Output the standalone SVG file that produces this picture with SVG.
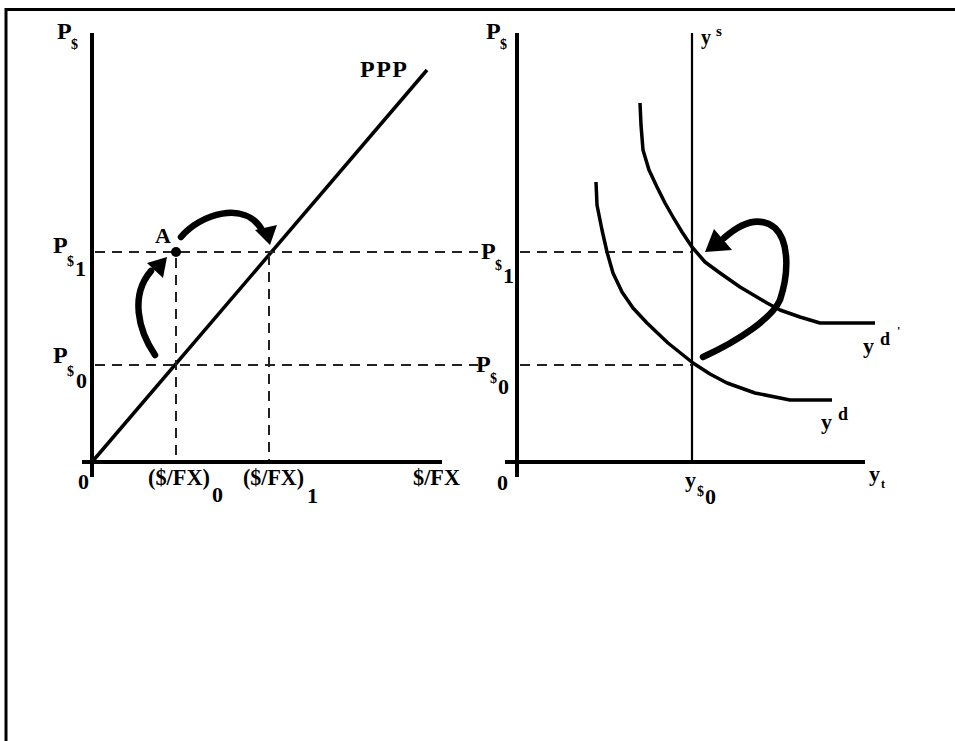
<svg xmlns="http://www.w3.org/2000/svg" width="955" height="741" viewBox="0 0 955 741">
<style>
text{font-family:"Liberation Serif","Times New Roman",serif;font-weight:bold;fill:#000}
.m{font-size:24px}
.s{font-size:14px}
.d{font-size:22px}
.ax{stroke:#000;stroke-width:4;fill:none}
.dash{stroke:#222;stroke-width:2;stroke-dasharray:10 7;fill:none}
.cv{stroke:#000;stroke-width:3.5;fill:none;stroke-linejoin:round;stroke-linecap:butt}
.arr{stroke:#000;stroke-width:6.5;fill:none;stroke-linecap:round}
</style>
<rect x="0" y="0" width="955" height="741" fill="#fff"/>
<g id="frame"><path d="M6,741 V9.5 H955" fill="none" stroke="#000" stroke-width="3"/></g>

<g id="left-axes">
<line class="ax" x1="92" y1="33" x2="92" y2="477"/>
<line class="ax" x1="82" y1="462" x2="442" y2="462"/>
</g>
<g id="ppp-line"><line x1="92" y1="462" x2="427" y2="70" stroke="#000" stroke-width="3.5"/></g>
<g id="left-guides">
<line class="dash" x1="95" y1="252" x2="478" y2="252"/>
<line class="dash" x1="95" y1="365" x2="478" y2="365"/>
<line class="dash" x1="176" y1="258" x2="176" y2="460"/>
<line class="dash" x1="269" y1="255" x2="269" y2="460"/>
</g>
<g id="point-A"><circle cx="176" cy="252" r="5" fill="#000"/><text class="d" x="155" y="243">A</text></g>
<g id="left-labels">
<text class="m" x="57" y="39">P</text><text class="s" x="71" y="49">$</text>
<text class="m" x="53" y="253">P</text><text class="s" x="67" y="266">$</text><text class="d" x="75" y="276">1</text>
<text class="m" x="53" y="363">P</text><text class="s" x="67" y="376">$</text><text class="d" x="76" y="388">0</text>
<text class="d" x="78" y="489">0</text>
<text class="m" x="148" y="485" textLength="62" lengthAdjust="spacingAndGlyphs">($/FX)</text><text class="d" x="212" y="502">0</text>
<text class="m" x="243" y="485" textLength="61" lengthAdjust="spacingAndGlyphs">($/FX)</text><text class="d" x="307" y="503">1</text>
<text class="m" x="413" y="485" textLength="47" lengthAdjust="spacingAndGlyphs">$/FX</text>
<text class="m" x="360" y="77" textLength="47">PPP</text>
</g>

<g id="right-axes">
<line class="ax" x1="517" y1="33" x2="517" y2="477"/>
<line class="ax" x1="505" y1="462" x2="865" y2="462"/>
</g>
<g id="supply-ys"><line x1="692" y1="33" x2="692" y2="462" stroke="#000" stroke-width="2.2"/>
<text x="701" y="44" style="font-size:20px">y</text><text x="716" y="36" style="font-size:15px">s</text></g>
<g id="right-guides">
<line class="dash" x1="520" y1="252" x2="692" y2="252"/>
<line class="dash" x1="520" y1="365" x2="692" y2="365"/>
</g>
<g id="demand-yd-prime">
<polyline class="cv" points="640,103 641,125 643,150 649,170 657,187 665,203 673,217 682,232 692,247 705,262 720,273 740,287 767,303 780,310 800,317 820,323 875,323"/>
<text class="d" x="863" y="353">y</text><text x="880" y="345" style="font-size:18px">d</text><text x="897" y="335" style="font-size:12px">'</text>
</g>
<g id="demand-yd">
<polyline class="cv" points="596,182 597,205 602,230 607,252 613,273 622,292 633,308 647,323 668,343 693,363 710,374 727,383 755,393 790,400 832,400"/>
<text class="d" x="821" y="429">y</text><text x="838" y="420" style="font-size:18px">d</text>
</g>
<g id="right-labels">
<text class="m" x="486" y="39">P</text><text class="s" x="500" y="49">$</text>
<text class="m" x="481" y="259">P</text><text class="s" x="495" y="270">$</text><text class="d" x="503" y="283">1</text>
<text class="m" x="476" y="372">P</text><text class="s" x="490" y="383">$</text><text class="d" x="498" y="394">0</text>
<text class="d" x="497" y="490">0</text>
<text class="d" x="685" y="487">y</text><text class="s" x="697" y="496">$</text><text class="d" x="705" y="504">0</text>
<text class="d" x="869" y="481">y</text><text x="881" y="488" style="font-size:12px">t</text>
</g>

<g id="connectors">
<path class="arr" d="M155,355 C138,330 130,295 151,271"/>
<polygon points="147,263 167,257 163,278" fill="#000"/>
<path class="arr" d="M181,237 C200,214 245,200 262,230"/>
<polygon points="255,230 277,225 270,245" fill="#000"/>
<path class="arr" d="M703,357 C740,340 772,318 780,300 C790,270 788,240 775,228 C760,216 742,222 724,238"/>
<polygon points="714,229 732,250 705,252" fill="#000"/>
</g>
</svg>
